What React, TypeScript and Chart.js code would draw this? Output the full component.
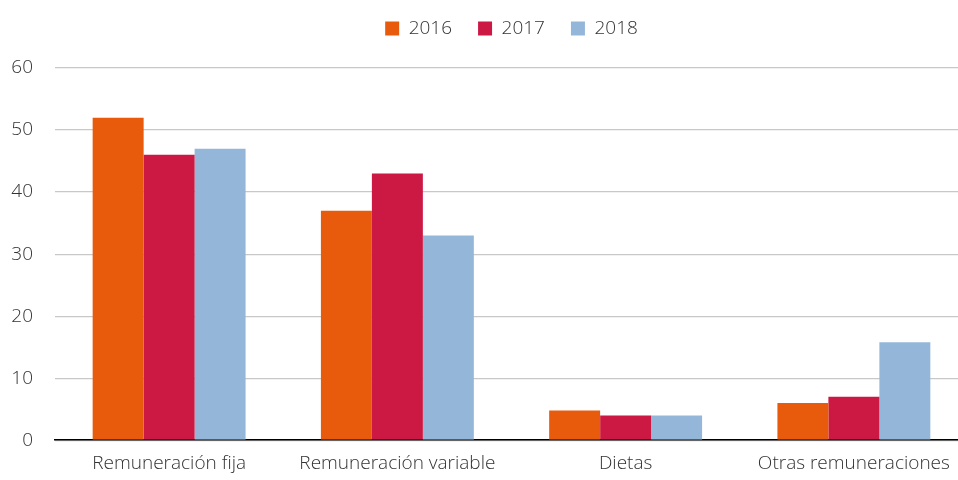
import React, { useEffect, useRef } from "react";
import { Chart, registerables } from "chart.js";

Chart.register(...registerables);

const categories = ["Remuneración fija", "Remuneración variable", "Dietas", "Otras remuneraciones"];
const seriesLabels = ["2016", "2017", "2018"];
const values2016 = [52, 37, 4.8, 6];
const values2017 = [46, 43, 4, 7];
const values2018 = [47, 33, 4, 15.8];
const seriesColors = ["#E85B0C", "#CC1944", "#94B7D9"];
const yTicks = [0, 10, 20, 30, 40, 50, 60];

const legendPlugin = {
  id: "legendTweak",
  beforeInit(chart: any) {
    const origFit = chart.legend.fit;
    chart.legend.fit = function () {
      origFit.bind(chart.legend)();
      this.height = 75;
    };
  },
  afterLayout(chart: any) {
    if (chart.legend && chart.chartArea) {
      chart.legend.left = chart.chartArea.left;
      chart.legend.right = chart.chartArea.right;
    }
  },
};

export default function App() {
  const ref = useRef<HTMLCanvasElement | null>(null);
  useEffect(() => {
    document.body.style.margin = "0";
    const ctx = ref.current!;
    const font = { family: "'Open Sans', sans-serif", size: 19, weight: "300" as any };
    const chart = new Chart(ctx, {
      type: "bar",
      data: {
        labels: categories,
        datasets: [values2016, values2017, values2018].map((d, i) => ({
          label: seriesLabels[i],
          data: d,
          backgroundColor: seriesColors[i],
          borderWidth: 0,
          categoryPercentage: 0.67,
          barPercentage: 1.0,
        })),
      },
      plugins: [legendPlugin],
      options: {
        animation: false,
        responsive: false,
        maintainAspectRatio: false,
        layout: { padding: { top: -7, left: 0, right: 0, bottom: -7 } },
        plugins: {
          tooltip: { enabled: false },
          legend: {
            position: "top",
            labels: {
              boxWidth: 14,
              boxHeight: 14,
              padding: 26,
              color: "#333",
              font,
            },
          },
        },
        scales: {
          x: {
            grid: { display: false, drawTicks: false },
            border: { color: "#000", width: 1.5 },
            ticks: { color: "#333", font, padding: 12 },
          },
          y: {
            min: 0,
            max: 60,
            afterBuildTicks: (scale: any) => {
              scale.ticks = yTicks.map((v) => ({ value: v }));
            },
            afterFit: (scale: any) => {
              scale.width = 55;
            },
            grid: { color: "#c8c8c8", lineWidth: 1.2, drawTicks: false },
            border: { display: false },
            ticks: { color: "#333", font, padding: 22 },
          },
        },
      },
    });
    return () => chart.destroy();
  }, []);
  return (
    <div style={{ position: "absolute", left: 0, top: 0, width: 958, height: 480, overflow: "hidden" }}>
      <canvas ref={ref} width={968} height={480} style={{ width: 968, height: 480, display: "block" }} />
    </div>
  );
}
